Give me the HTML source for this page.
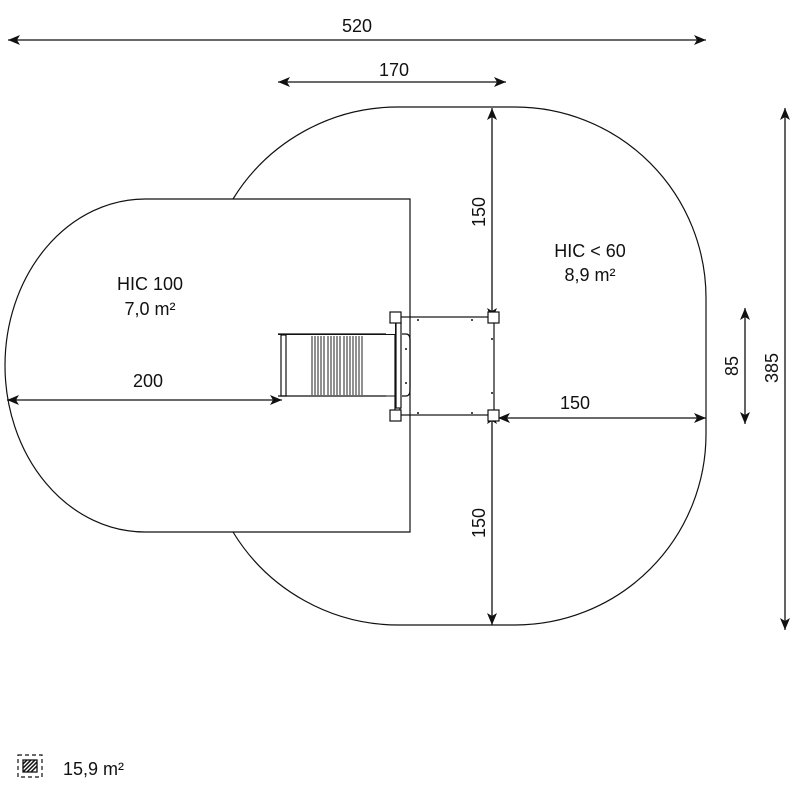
<!DOCTYPE html>
<html><head><meta charset="utf-8"><style>body{margin:0;background:#fff}svg{display:block}text{font-family:"Liberation Sans",sans-serif;font-size:18px;fill:#111}</style></head><body>
<svg width="800" height="800" viewBox="0 0 800 800" xmlns="http://www.w3.org/2000/svg">
<defs><marker id="a" viewBox="0 0 12 10" refX="12" refY="5" markerWidth="12" markerHeight="10" orient="auto-start-reverse" markerUnits="userSpaceOnUse"><path d="M0,0 L12,5 L0,10 L3,5z" fill="#111"/></marker></defs>
<g fill="none" stroke="#111" stroke-width="1.2">
<path d="M410,199 L145,199 A140,166.5 0 0 0 145,532 L410,532 Z"/>
<path d="M233,199 A194,194 0 0 1 400,107 L515,107 A191,191 0 0 1 706,298 L706,434 A191,191 0 0 1 515,625 L400,625 A194,194 0 0 1 233,532"/>
</g>
<g stroke="#111" stroke-width="1.3" marker-start="url(#a)" marker-end="url(#a)">
<line x1="8" y1="40" x2="706" y2="40"/>
<line x1="278" y1="82" x2="506" y2="82"/>
<line x1="492" y1="108" x2="492" y2="320"/>
<line x1="492" y1="412" x2="492" y2="625"/>
<line x1="7" y1="400" x2="282" y2="400"/>
<line x1="498" y1="418" x2="706" y2="418"/>
<line x1="745" y1="308" x2="745" y2="424"/>
<line x1="785" y1="108" x2="785" y2="630"/>
</g>
<text x="357" y="32" text-anchor="middle">520</text>
<text x="394" y="76" text-anchor="middle">170</text>
<text x="148" y="387" text-anchor="middle">200</text>
<text x="575" y="409" text-anchor="middle">150</text>
<text transform="translate(485,212) rotate(-90)" text-anchor="middle">150</text>
<text transform="translate(485,523) rotate(-90)" text-anchor="middle">150</text>
<text transform="translate(738,366) rotate(-90)" text-anchor="middle">85</text>
<text transform="translate(778,368) rotate(-90)" text-anchor="middle">385</text>
<text x="150" y="290" text-anchor="middle">HIC 100</text>
<text x="150" y="315" text-anchor="middle">7,0 m²</text>
<text x="590" y="257" text-anchor="middle">HIC &lt; 60</text>
<text x="590" y="281" text-anchor="middle">8,9 m²</text>
<text x="63" y="775">15,9 m²</text>
<g fill="none" stroke="#111" stroke-width="1.2">
<rect x="400" y="317" width="94" height="98"/>
<path d="M395,314 V413 M386,334 H278 M386,396 H278"/>
<rect x="396" y="322" width="5" height="86" fill="#fff"/>
<path d="M402,334 H406 Q410,334 410,340 V390 Q410,396 406,396 H402"/>
<rect x="281" y="335" width="5" height="61"/>
<rect x="386" y="316" width="9" height="18" fill="#fff" stroke="none"/>
</g>
<g stroke="#111" stroke-width="1"><path d="M278,334.5 H395 M278,396 H395"/></g>
<g stroke="#555" stroke-width="1.3">
<path d="M312,336 V395 M315,336 V395 M318,336 V395 M321,336 V395 M324,336 V395 M328,336 V395 M331,336 V395 M334,336 V395 M337,336 V395 M340,336 V395 M344,336 V395 M347,336 V395 M350,336 V395 M353,336 V395 M356,336 V395 M359,336 V395 M362,336 V395"/>
</g>
<g fill="#fff" stroke="#111" stroke-width="1.2">
<rect x="390" y="312" width="11" height="11"/><rect x="488" y="312" width="11" height="11"/>
<rect x="390" y="410" width="11" height="11"/><rect x="488" y="410" width="11" height="11"/>
</g>
<g fill="#111"><circle cx="418" cy="320" r="1"/><circle cx="472" cy="320" r="1"/><circle cx="418" cy="413" r="1"/><circle cx="472" cy="413" r="1"/><circle cx="406" cy="349" r="1"/><circle cx="406" cy="383" r="1"/><circle cx="492" cy="339" r="1"/><circle cx="492" cy="393" r="1"/></g>
<rect x="18" y="755" width="24" height="22" fill="none" stroke="#111" stroke-width="1.2" stroke-dasharray="4,3"/>
<rect x="23" y="760" width="14" height="12" fill="#fff" stroke="#111" stroke-width="1.3"/>
<path d="M23,764 L27,760 M23,768 L31,760 M23,772 L35,760 M27,772 L37,762 M31,772 L37,766" stroke="#111" stroke-width="1.5"/>
</svg>
</body></html>
